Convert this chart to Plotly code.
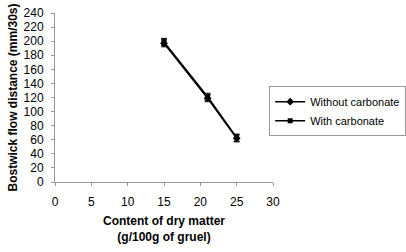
import plotly.graph_objects as go

x_vals = [15, 21, 25]
without_carb = [197, 119, 62]
without_err = [5, 5, 5]
with_carb = [199, 121, 63]
with_err = [5, 5, 5]
series_names = ["Without carbonate", "With carbonate"]

fig = go.Figure()
fig.add_trace(go.Scatter(
    x=x_vals, y=without_carb, name=series_names[0], mode="lines+markers",
    line=dict(color="black", width=1.5),
    marker=dict(symbol="diamond", size=6, color="black"),
    error_y=dict(type="data", array=without_err, color="black", thickness=1, width=3),
))
fig.add_trace(go.Scatter(
    x=x_vals, y=with_carb, name=series_names[1], mode="lines+markers",
    line=dict(color="black", width=1.5),
    marker=dict(symbol="square", size=5, color="black"),
    error_y=dict(type="data", array=with_err, color="black", thickness=1, width=3),
))

font = "Liberation Sans, Arial, sans-serif"
fig.update_layout(
    width=406, height=252,
    margin=dict(l=55, r=133, t=13, b=70, autoexpand=False),
    paper_bgcolor="white", plot_bgcolor="white",
    font=dict(family=font, size=12, color="black"),
    showlegend=True,
    legend=dict(xref="container", yref="container", x=0.663, y=0.658,
                xanchor="left", yanchor="top",
                bordercolor="#999999", borderwidth=1, bgcolor="white",
                font=dict(size=11), tracegroupgap=0, itemwidth=30),
    xaxis=dict(range=[0, 30], tickvals=[0, 5, 10, 15, 20, 25, 30],
               showline=True, linecolor="#999999", linewidth=1,
               ticks="outside", tickcolor="#999999", ticklen=3,
               ticklabelstandoff=6, automargin=False,
               showgrid=False, zeroline=False,
               title=dict(text="<b>Content of dry matter<br>(g/100g of gruel)</b>",
                          font=dict(size=12), standoff=8)),
    yaxis=dict(range=[0, 240], dtick=20,
               showline=True, linecolor="#999999", linewidth=1,
               ticks="outside", tickcolor="#999999", ticklen=3,
               ticklabelstandoff=5, automargin=False,
               showgrid=False, zeroline=False,
               title=dict(text="<b>Bostwick flow distance (mm/30s)</b>",
                          font=dict(size=12), standoff=3)),
)
fig.write_html("out.html", config={"displayModeBar": False},
               post_script="document.body.style.margin='0';")
